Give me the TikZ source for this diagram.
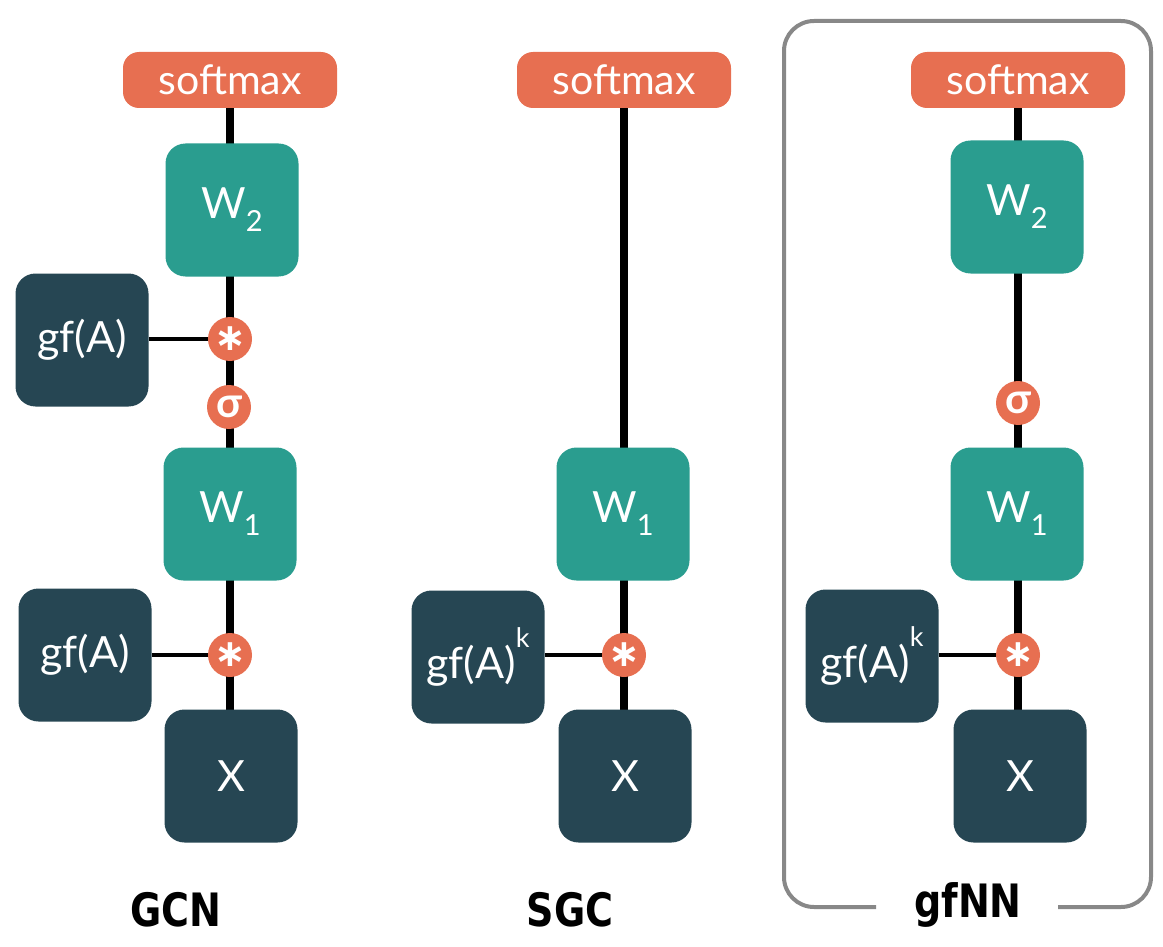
\documentclass[tikz,border=0pt]{standalone}
\usepackage{fontspec}
\setmainfont{Lato}
\newfontfamily\labfont{DejaVu Sans Condensed}
\newfontfamily\symfont{DejaVu Sans}
\usetikzlibrary{backgrounds}
\definecolor{teal}{HTML}{2A9D8F}
\definecolor{darkb}{HTML}{264653}
\definecolor{orng}{HTML}{E76F51}
\definecolor{frm}{HTML}{888888}
\newcommand{\subs}[1]{\raisebox{-0.3em}{\fontsize{29}{29}\selectfont #1}}
\newcommand{\sups}[1]{\raisebox{0.72em}{\fontsize{27}{27}\selectfont #1}}
\tikzset{
  x=1pt, y=-1pt,
  sqbox/.style={rounded corners=20pt, minimum width=133pt, minimum height=133pt, inner sep=0pt, text=white, font=\fontsize{43}{45}\selectfont},
  wbox/.style={sqbox, fill=teal},
  dbox/.style={sqbox, fill=darkb},
  smax/.style={rounded corners=16pt, fill=orng, minimum width=214pt, minimum height=56pt, inner sep=0pt, text=white, font=\fontsize{41}{42}\selectfont},
  op/.style={circle, fill=orng, minimum size=44pt, inner sep=0pt, text=white, font=\fontsize{38}{38}\selectfont},
  sigop/.style={op, font=\bfseries\fontsize{42}{42}\selectfont},
  thick line/.style={line width=7.5pt, black},
  thin line/.style={line width=3.5pt, black},
  lab/.style={font=\labfont\bfseries\fontsize{46}{46}\selectfont, text=black, xscale=0.92},
}
\newcommand{\myast}{{\symfont\bfseries ∗}}
\begin{document}
\begin{tikzpicture}
\useasboundingbox (0,0) rectangle (1163,947);
% frame
\draw[frm, line width=4pt, rounded corners=30pt] (876,907) -- (784,907) -- (784,21) -- (1151,21) -- (1151,907) -- (1058,907);
% GCN
\node[smax] (s1) at (230,80) {softmax};
\node[wbox] (w2a) at (232,210) {W\subs{2}};
\node[dbox] (g1a) at (82,340) {gf(A)};
\node[op] (m1a) at (230,339) {\myast};
\node[sigop] (sig1) at (229,407) {σ};
\node[wbox] (w1a) at (230,514) {W\subs{1}};
\node[dbox] (g2a) at (85,655) {gf(A)};
\node[op] (m2a) at (230,655) {\myast};
\node[dbox] (xa) at (231,776) {X};
\node[lab] (la) at (176,910) {GCN};
% SGC
\node[smax] (s2) at (624,80) {softmax};
\node[wbox] (w1b) at (623,514) {W\subs{1}};
\node[dbox] (gb) at (478,657) {gf(A)\sups{k}};
\node[op] (mb) at (624,655) {\myast};
\node[dbox] (xb) at (625,776) {X};
\node[lab] (lb) at (570,910) {SGC};
% gfNN
\node[smax] (s3) at (1018,80) {softmax};
\node[wbox] (w2c) at (1017,207) {W\subs{2}};
\node[sigop] (sigc) at (1018,403) {σ};
\node[wbox] (w1c) at (1017,514) {W\subs{1}};
\node[dbox] (gc) at (872,656) {gf(A)\sups{k}};
\node[op] (mc) at (1018,655) {\myast};
\node[dbox] (xc) at (1020,776) {X};
\node[lab] (lc) at (968,905) {gfNN};
\begin{scope}[on background layer]
\draw[thick line] (s1.center) -- (xa.center -| s1.center);
\draw[thin line] (g1a.east |- m1a.center) -- (m1a.center);
\draw[thin line] (g2a.east |- m2a.center) -- (m2a.center);
\draw[thick line] (s2.center) -- (xb.center -| s2.center);
\draw[thin line] (gb.east |- mb.center) -- (mb.center);
\draw[thick line] (s3.center) -- (xc.center -| s3.center);
\draw[thin line] (gc.east |- mc.center) -- (mc.center);
\end{scope}
\end{tikzpicture}
\end{document}
